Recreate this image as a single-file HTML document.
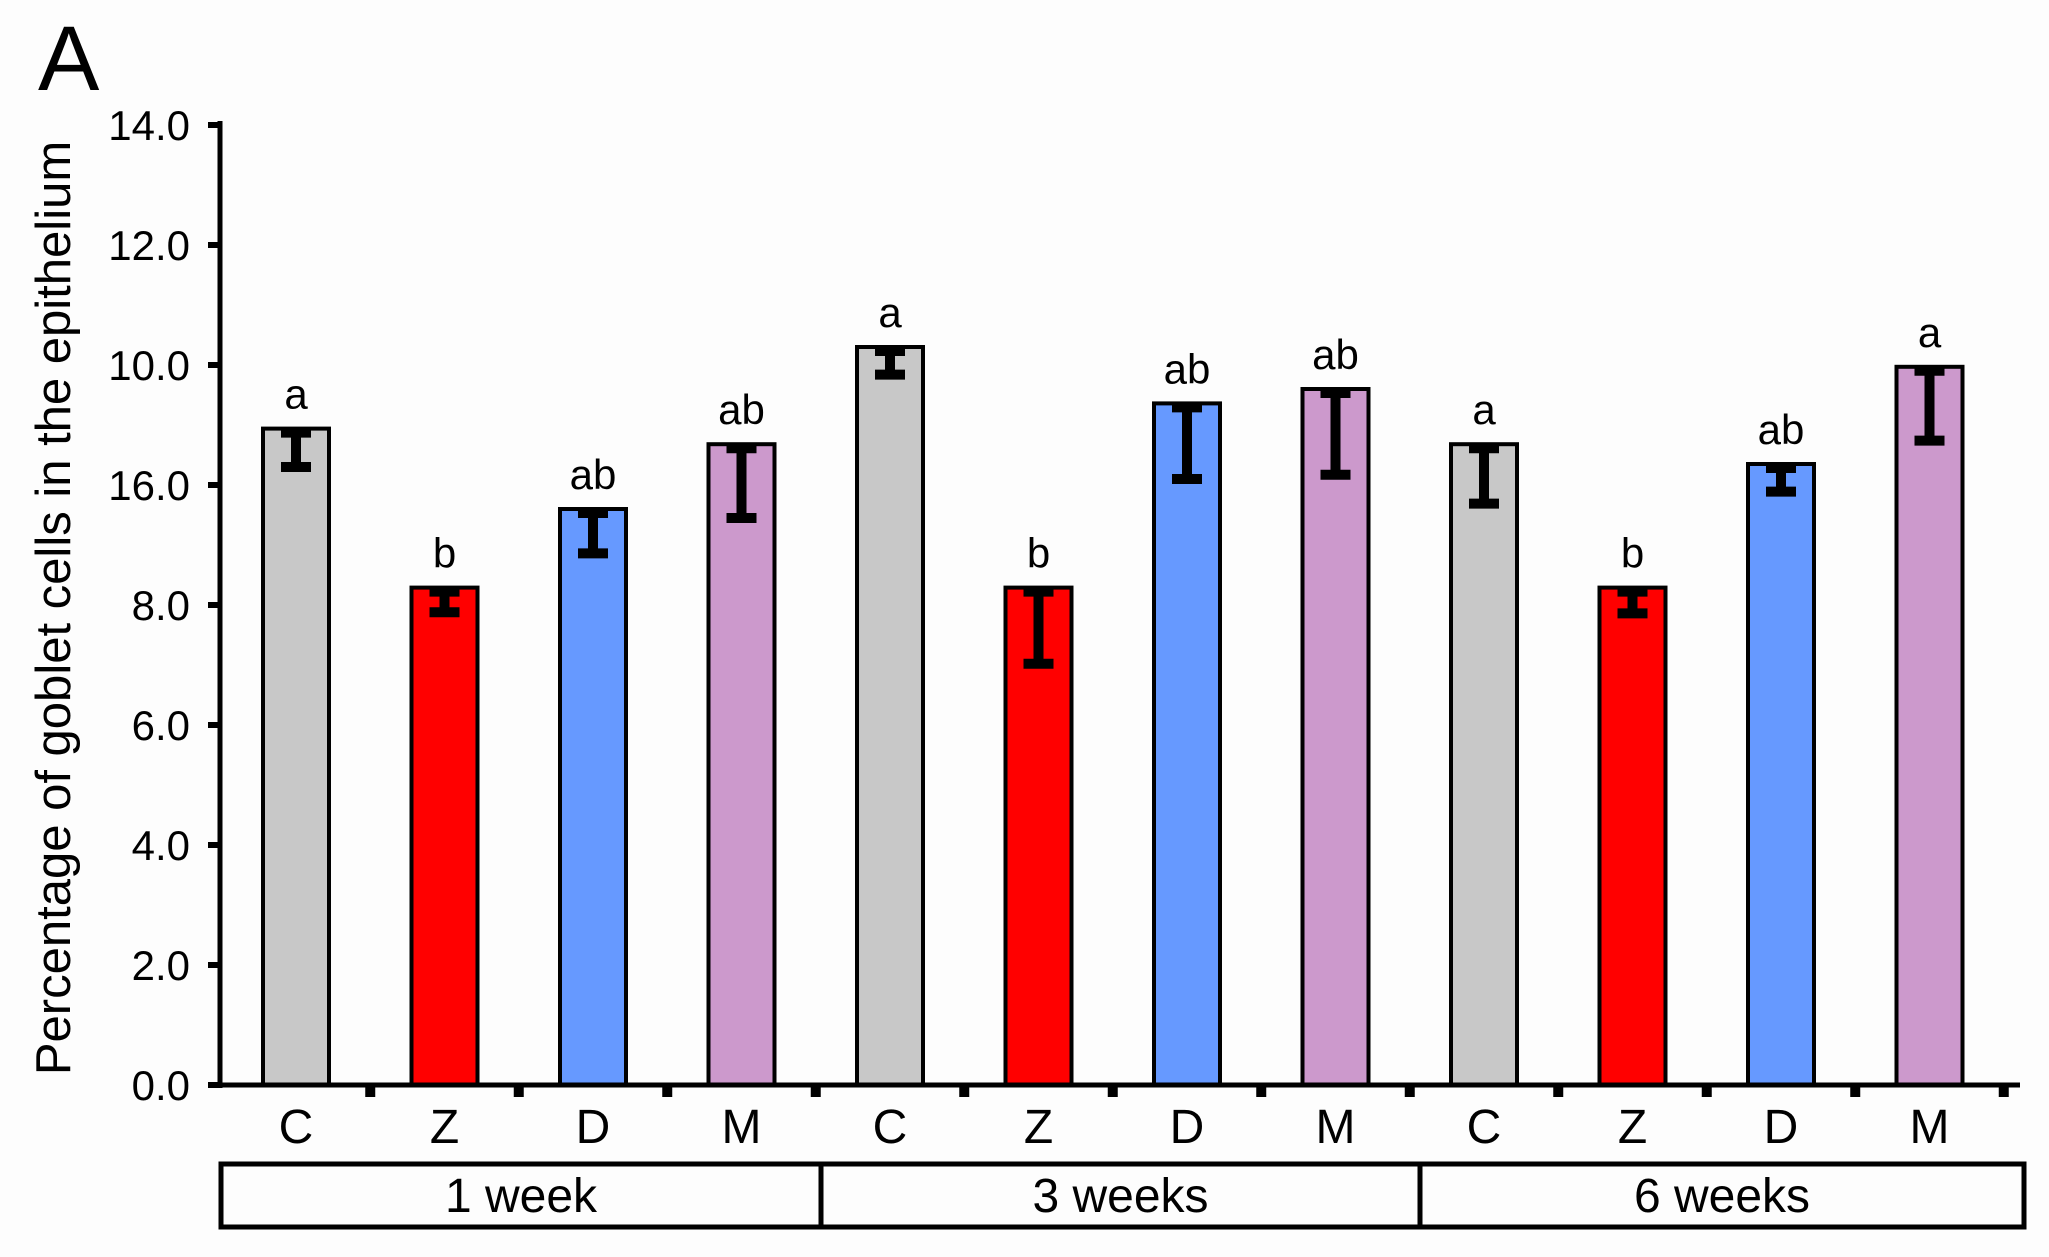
<!DOCTYPE html>
<html><head><meta charset="utf-8"><style>
body{margin:0;background:#fdfdfd;}
svg{display:block;font-family:"Liberation Sans",Arial,sans-serif;}
</style></head><body>
<svg id="chart" width="2049" height="1257" viewBox="0 0 2049 1257">
<rect width="2049" height="1257" fill="#fdfdfd"/>
<text x="38" y="90" font-size="92">A</text>
<text transform="translate(70,608) rotate(-90)" text-anchor="middle" font-size="49">Percentage of goblet cells in the epithelium</text>
<g id="g"></g>
</svg>
<script>
const categories = ["C","Z","D","M","C","Z","D","M","C","Z","D","M"];
const values = [10.94,8.29,9.6,10.68,12.3,8.29,11.36,11.6,10.68,8.29,10.35,11.97];
const errors = [0.64,0.41,0.74,1.23,0.46,1.27,1.26,1.43,0.99,0.43,0.46,1.23];
const letters = ["a","b","ab","ab","a","b","ab","ab","a","b","ab","a"];
const colors = ["#c8c8c8","#ff0000","#6699ff","#cc99cc"];
const tickValues = [0,2,4,6,8,10,12,14,16];
const tickLabels = ["0.0","2.0","4.0","6.0","8.0","16.0","10.0","12.0","14.0"];
const groups = ["1 week","3 weeks","6 weeks"];

const NS="http://www.w3.org/2000/svg";
const g=document.getElementById('g');
const x0=220, base=1085, ppu=60, step=148.5, firstC=296, bw=66, xEnd=2020;
const y=v=>base-v*ppu;
const xc=i=>firstC+i*step;
function mk(t,a,parent){const e=document.createElementNS(NS,t);for(const k in a)e.setAttribute(k,a[k]);(parent||g).appendChild(e);return e;}

const ya=mk('line',{x1:x0,y1:y(16)-4,x2:x0,y2:base+3,stroke:'#000','stroke-width':5});


tickValues.forEach((v,i)=>{
  const t=mk('line',{x1:x0-12,y1:y(v),x2:x0,y2:y(v),stroke:'#000','stroke-width':6});
  
  
  const l=mk('text',{x:190,y:y(v)+15,'text-anchor':'end','font-size':42});
  l.textContent=tickLabels[i];
  
  
});

values.forEach((v,i)=>{
  const cx=xc(i);
  const r=mk('rect',{x:cx-bw/2,y:y(v),width:bw,height:base-y(v),fill:colors[i%4],stroke:'#000','stroke-width':4});
  
  
  const eb=mk('path',{d:`M${cx},${y(v)} L${cx},${y(v-errors[i])} M${cx-15},${y(v-errors[i])} L${cx+15},${y(v-errors[i])} M${cx-15},${y(v)+4} L${cx+15},${y(v)+4}`,stroke:'#000','stroke-width':10,fill:'none'});
  
  
  const lt=mk('text',{x:cx,y:y(v)-20,'text-anchor':'middle','font-size':42});
  lt.textContent=letters[i];
  
  
  const cl=mk('text',{x:cx,y:1143,'text-anchor':'middle','font-size':48});
  cl.textContent=categories[i];
  
  
  const tk=mk('rect',{x:cx+step/2-5,y:base,width:10,height:12,fill:'#000'});
  
  
});
const xa=mk('line',{x1:x0-2,y1:base,x2:xEnd,y2:base,stroke:'#000','stroke-width':5});



const gx=[221,821,1420,2024];
groups.forEach((s,i)=>{
  const b=mk('rect',{x:gx[i],y:1164,width:gx[i+1]-gx[i],height:63,fill:'none',stroke:'#000','stroke-width':5});
  
  
  const t=mk('text',{x:(gx[i]+gx[i+1])/2,y:1212,'text-anchor':'middle','font-size':48});
  t.textContent=s;
  
  
});
</script>
</body></html>
